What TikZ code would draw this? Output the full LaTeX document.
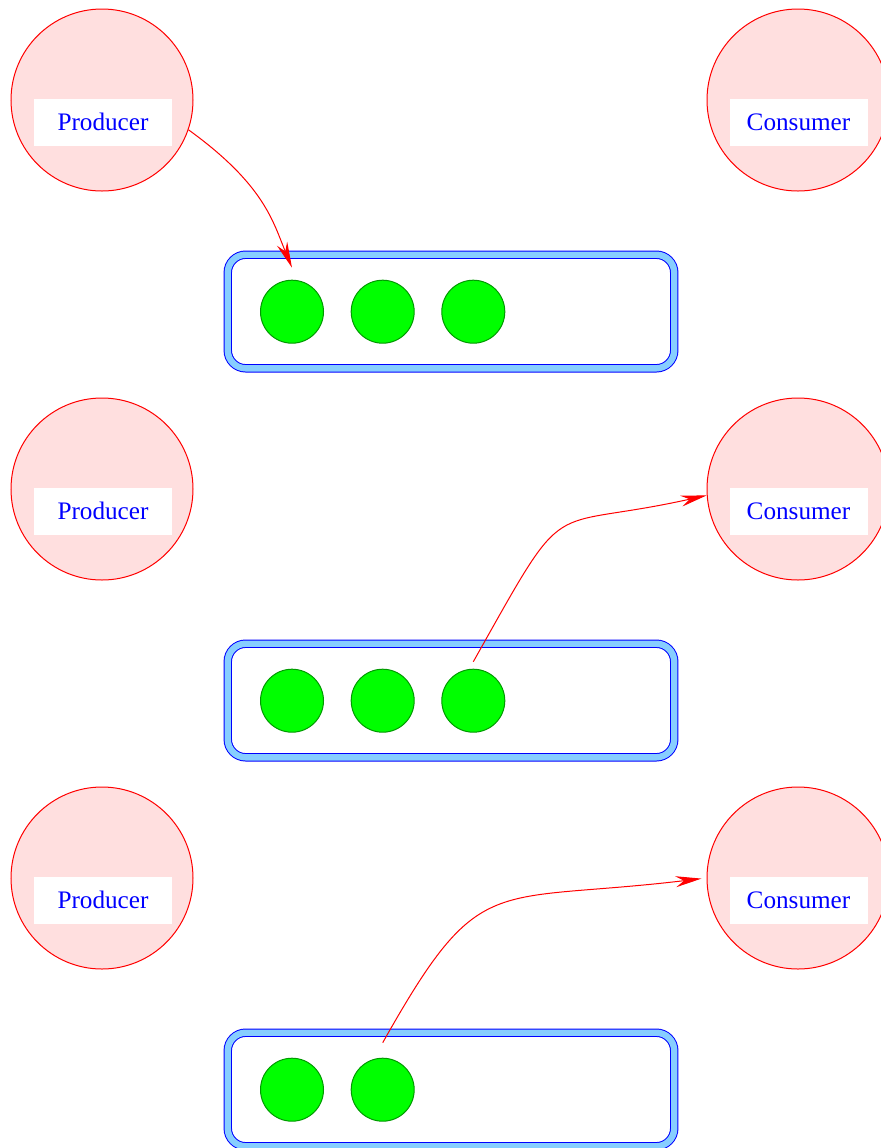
\documentclass[tikz,border=0pt]{standalone}
\usepackage{fontspec}
\setmainfont{Liberation Serif}
\usetikzlibrary{arrows.meta}
\definecolor{rosefill}{HTML}{FFDFDF}
\definecolor{qblue}{HTML}{87CEFF}
\definecolor{ballgreen}{HTML}{00FF00}
\definecolor{ballrim}{HTML}{009900}

\begin{document}
\begin{tikzpicture}[x=0.5pt, y=-0.5pt, >={Stealth[length=13pt, width=5.5pt]},
  agent/.style={circle, draw=red, fill=rosefill, line width=0.5pt, minimum size=91pt, inner sep=0pt},
  tag/.style={fill=white, text=blue, font=\fontsize{12.6}{15}\selectfont, minimum width=69pt, minimum height=23.5pt, inner sep=0pt},
  queue/.style={draw=blue, double=qblue, double distance=3.2pt, line width=0.5pt, rounded corners=9pt, minimum width=223.25pt, minimum height=56.8pt, inner sep=0pt},
  item/.style={circle, draw=ballrim, fill=ballgreen, line width=0.5pt, minimum size=31.5pt, inner sep=0pt},
  flow/.style={red, line width=0.5pt, ->}]

% Page frame (pixel units, y runs downwards)
\useasboundingbox (0,0) rectangle (881,1148);

% ============================================================
% Row 1: producer puts an item into the queue
% ============================================================
\node[agent] (prod1) at (102,100) {};
\node[tag] (prodtag1) at (103,122) {Producer};
\node[agent] (cons1) at (798,100) {};
\node[tag] (constag1) at (798.5,122) {Consumer};

\node[queue] (queue1) at (451,311.5) {};
\node[item] (ball11) at (292,311.7) {};
\node[item] (ball12) at (382.7,311.7) {};
\node[item] (ball13) at (473.3,311.7) {};

\draw[flow] (prod1.-19) .. controls +(76,55) and +(-19,-46) .. ([yshift=6pt]ball11.north);

% ============================================================
% Row 2: consumer takes the last item
% ============================================================
\node[agent] (prod2) at (102,489) {};
\node[tag] (prodtag2) at (103,511) {Producer};
\node[agent] (cons2) at (798,489) {};
\node[tag] (constag2) at (798.5,511) {Consumer};

\node[queue] (queue2) at (451,700.5) {};
\node[item] (ball21) at (292,700.7) {};
\node[item] (ball22) at (382.7,700.7) {};
\node[item] (ball23) at (473.3,700.7) {};

\draw[flow] ([yshift=3.5pt]ball23.north) .. controls +(98,-174) and +(-166,37) .. (cons2.184);

% ============================================================
% Row 3: two items left, consumer takes the next one
% ============================================================
\node[agent] (prod3) at (102,878) {};
\node[tag] (prodtag3) at (103,900) {Producer};
\node[agent] (cons3) at (798,878) {};
\node[tag] (constag3) at (798.5,900) {Consumer};

\node[queue] (queue3) at (451,1089.5) {};
\node[item] (ball31) at (292,1089.7) {};
\node[item] (ball32) at (382.7,1089.7) {};

\draw[flow, shorten >=2.5pt] ([yshift=7.5pt]ball32.north) .. controls +(98,-174) and +(-218,26) .. (cons3.west);

\end{tikzpicture}
\end{document}
